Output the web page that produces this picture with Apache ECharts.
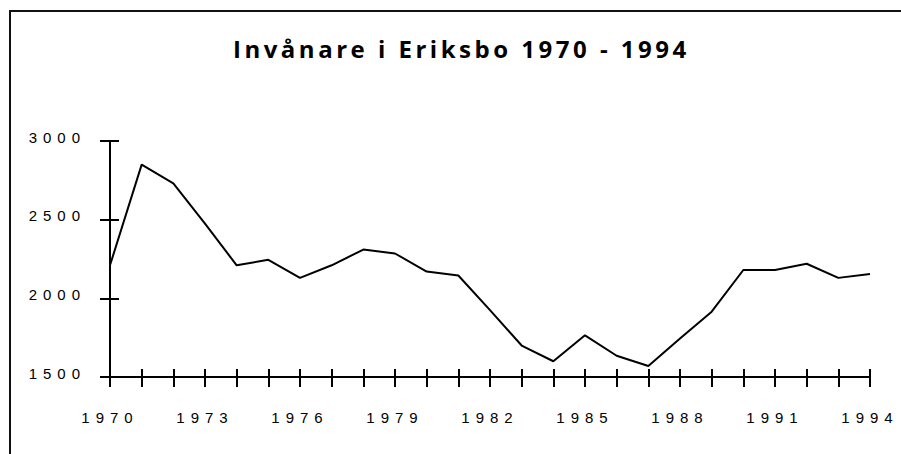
<!DOCTYPE html>
<html>
<head>
    <meta charset="utf-8">
    <title>Invånare i Eriksbo</title>
    <style>
        html, body { margin: 0; padding: 0; background: #fff; }
        #main { width: 901px; height: 454px; }
    </style>
</head>
<body>
<div id="main"></div>
<script src="https://cdn.jsdelivr.net/npm/echarts@6/dist/echarts.min.js"></script>
<script>
    // år (kategorier)
    var years = ['1970', '1971', '1972', '1973', '1974', '1975', '1976', '1977', '1978', '1979',
        '1980', '1981', '1982', '1983', '1984', '1985', '1986', '1987', '1988', '1989',
        '1990', '1991', '1992', '1993', '1994'];
    // antal invånare
    var invanare = [2210, 2850, 2730, 2475, 2210, 2245, 2130, 2210, 2310, 2285,
        2170, 2145, 1925, 1700, 1600, 1765, 1635, 1570, 1745, 1915,
        2180, 2180, 2220, 2130, 2155];
    // y-axelns skala
    var yMin = 1500, yMax = 3000, yStep = 500;

    var chart = echarts.init(document.getElementById('main'), null, {renderer: 'svg'});

    var labelFont = {color: '#000', fontFamily: '"Liberation Sans", Arial, sans-serif', fontSize: 15};

    var option = {
        animation: false,
        backgroundColor: '#fff',
        title: {
            text: 'Invånare i Eriksbo 1970 - 1994',
            left: 233,
            top: 36,
            padding: 0,
            textStyle: {
                color: '#000',
                fontFamily: '"Open Sans", sans-serif',
                fontWeight: 'bold',
                fontSize: 24
            }
        },
        graphic: [{
            type: 'polyline',
            shape: {points: [[10, 454], [10, 11], [901, 11]]},
            style: {stroke: '#111', lineWidth: 2, fill: null}
        }],
        grid: {left: 110, right: 31, top: 141, bottom: 77},
        xAxis: [
            {
                type: 'category',
                data: years,
                position: 'bottom',
                boundaryGap: false,
                axisLine: {lineStyle: {color: '#000', width: 2}},
                axisTick: {show: true, interval: 0, length: 10, lineStyle: {color: '#000', width: 2}},
                axisLabel: Object.assign({interval: 2, margin: 33}, labelFont),
                splitLine: {show: false}
            },
            {
                // inre halvan av korsade streck
                type: 'category',
                data: years,
                position: 'bottom',
                boundaryGap: false,
                axisLine: {show: false},
                axisTick: {show: true, inside: true, interval: 0, length: 8, lineStyle: {color: '#000', width: 2}},
                axisLabel: {show: false},
                splitLine: {show: false}
            }
        ],
        yAxis: [
            {
                type: 'value',
                min: yMin,
                max: yMax,
                interval: yStep,
                axisLine: {show: true, lineStyle: {color: '#000', width: 2}},
                axisTick: {show: true, length: 10, lineStyle: {color: '#000', width: 2}},
                axisLabel: Object.assign({
                    margin: 24,
                    verticalAlign: 'bottom',
                    lineHeight: 8,
                    formatter: function (v) { return String(v); }
                }, labelFont),
                splitLine: {show: false}
            },
            {
                type: 'value',
                position: 'left',
                min: yMin,
                max: yMax,
                interval: yStep,
                axisLine: {show: false},
                axisTick: {show: true, inside: true, length: 9, lineStyle: {color: '#000', width: 2}},
                axisLabel: {show: false},
                splitLine: {show: false}
            }
        ],
        series: [{
            name: 'Invånare',
            type: 'line',
            data: invanare,
            showSymbol: false,
            symbol: 'none',
            lineStyle: {color: '#000', width: 2}
        }]
    };

    chart.setOption(option);

    // glesa bokstäver som i originalet
    document.querySelectorAll('#main text').forEach(function (t) {
        t.style.letterSpacing = t.textContent.indexOf('Invånare') >= 0 ? '3.5px' : '6px';
    });
</script>
</body>
</html>
